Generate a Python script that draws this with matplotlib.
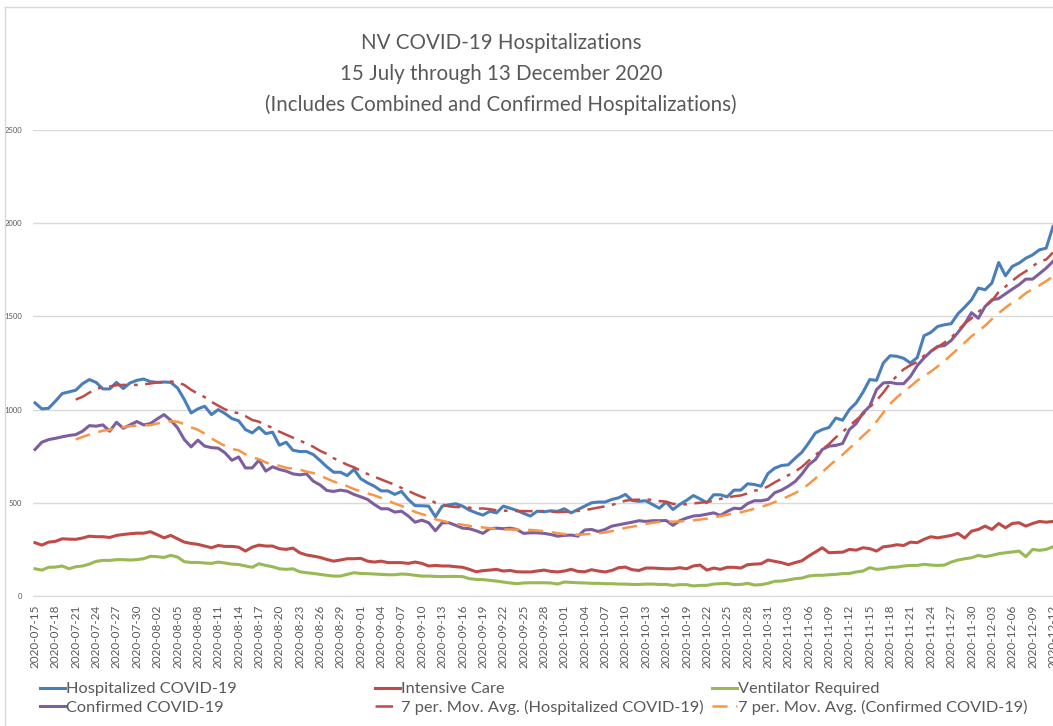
import numpy as np
import pandas as pd
import matplotlib
matplotlib.use("Agg")
import matplotlib.pyplot as plt
from matplotlib.lines import Line2D

plt.rcParams['font.family'] = ['Lato', 'DejaVu Sans']

dates = pd.date_range('2020-07-15', '2020-12-12', freq='D')

hospitalized = [
    1036, 1004, 1007, 1045, 1086, 1095, 1104, 1139, 1161, 1146,
    1111, 1111, 1146, 1113, 1143, 1157, 1164, 1150, 1146, 1148,
    1146, 1116, 1054, 982, 1004, 1018, 973, 1000, 979, 952,
    940, 893, 875, 905, 871, 879, 809, 825, 782, 775,
    775, 759, 727, 693, 664, 664, 646, 679, 629, 607,
    589, 564, 564, 545, 561, 518, 485, 484, 482, 425,
    482, 489, 495, 482, 461, 446, 434, 454, 446, 482,
    471, 459, 443, 429, 455, 452, 457, 454, 468, 446,
    464, 482, 500, 504, 504, 518, 527, 545, 512, 508,
    511, 491, 471, 504, 464, 491, 513, 539, 521, 500,
    543, 543, 532, 568, 568, 602, 598, 589, 657, 686,
    700, 704, 739, 771, 821, 875, 893, 904, 955, 943,
    1000, 1036, 1093, 1161, 1157, 1250, 1289, 1286, 1275, 1250,
    1279, 1396, 1414, 1446, 1455, 1461, 1514, 1550, 1589, 1652,
    1643, 1679, 1789, 1718, 1768, 1786, 1812, 1830, 1857, 1866,
    1982,
]

confirmed = [
    786, 825, 839, 846, 854, 861, 866, 884, 914, 911,
    918, 884, 932, 900, 918, 936, 918, 925, 950, 973,
    943, 902, 839, 800, 836, 804, 796, 793, 768, 728,
    746, 687, 687, 729, 670, 693, 679, 670, 655, 650,
    655, 616, 596, 566, 561, 568, 562, 545, 532, 518,
    491, 468, 468, 450, 455, 429, 396, 407, 393, 350,
    393, 393, 379, 364, 361, 350, 336, 361, 364, 361,
    364, 357, 336, 339, 339, 336, 330, 321, 325, 327,
    321, 354, 357, 346, 357, 375, 382, 389, 396, 404,
    400, 404, 404, 405, 379, 404, 418, 429, 432, 439,
    446, 432, 454, 471, 468, 496, 511, 511, 518, 554,
    568, 589, 614, 654, 704, 732, 786, 804, 808, 818,
    893, 925, 982, 1018, 1107, 1143, 1146, 1139, 1139, 1178,
    1236, 1277, 1312, 1339, 1343, 1371, 1414, 1460, 1520, 1490,
    1553, 1589, 1596, 1621, 1646, 1670, 1700, 1700, 1729, 1759,
    1795,
]

icu = [
    286, 273, 289, 293, 307, 305, 304, 311, 321, 318,
    318, 314, 325, 330, 334, 337, 337, 345, 329, 312,
    325, 307, 289, 282, 277, 268, 259, 271, 266, 266,
    262, 241, 262, 273, 268, 268, 254, 250, 257, 232,
    220, 214, 207, 196, 187, 193, 200, 200, 202, 187,
    182, 187, 179, 179, 179, 175, 182, 175, 161, 164,
    161, 161, 157, 154, 143, 130, 136, 139, 143, 134,
    137, 130, 129, 129, 134, 139, 132, 129, 134, 143,
    132, 130, 141, 134, 129, 137, 152, 155, 141, 137,
    150, 150, 148, 146, 146, 152, 146, 161, 166, 139,
    150, 143, 154, 154, 150, 168, 171, 173, 193, 186,
    179, 168, 179, 189, 214, 236, 259, 232, 234, 235,
    250, 246, 259, 254, 241, 264, 268, 275, 271, 289,
    286, 304, 318, 312, 318, 325, 336, 311, 348, 357,
    375, 357, 389, 366, 389, 393, 375, 389, 400, 396,
    400,
]

ventilator = [
    146, 139, 154, 155, 161, 146, 157, 161, 171, 186,
    191, 191, 195, 195, 193, 195, 200, 213, 211, 207,
    218, 209, 184, 180, 180, 177, 175, 182, 177, 171,
    169, 161, 154, 173, 164, 157, 146, 143, 146, 130,
    125, 121, 116, 111, 107, 107, 116, 125, 121, 120,
    118, 116, 114, 114, 118, 116, 111, 107, 107, 105,
    104, 105, 105, 104, 93, 89, 88, 84, 80, 75,
    70, 66, 70, 71, 71, 71, 70, 64, 75, 73,
    71, 70, 68, 68, 66, 66, 64, 64, 62, 62,
    64, 64, 62, 62, 57, 61, 61, 54, 57, 57,
    64, 66, 68, 61, 62, 68, 59, 61, 68, 79,
    80, 86, 93, 96, 107, 111, 111, 114, 116, 120,
    121, 129, 134, 152, 143, 146, 154, 155, 161, 164,
    164, 170, 166, 164, 166, 182, 193, 200, 205, 218,
    211, 218, 227, 232, 236, 241, 211, 250, 245, 250,
    264,
]

# 7 period moving averages (Excel trendlines)
ma_hosp = pd.Series(hospitalized).rolling(7).mean()
ma_conf = pd.Series(confirmed).rolling(7).mean()

BLUE = '#4A7EBB'
RED = '#BE4B48'
GREEN = '#98B954'
PURPLE = '#7D5FA0'
ORANGE = '#F79646'
TXT = '#595959'

W, H = 1053, 726
fig = plt.figure(figsize=(W / 100, H / 100), dpi=100)
ax = fig.add_axes([33 / W, (H - 596) / H, 1022 / W, 466 / H])

x = np.arange(len(dates))
ax.plot(x, hospitalized, color=BLUE, lw=2.2, label='Hospitalized COVID-19')
ax.plot(x, icu, color=RED, lw=2.2, label='Intensive Care')
ax.plot(x, ventilator, color=GREEN, lw=2.2, label='Ventilator Required')
ax.plot(x, confirmed, color=PURPLE, lw=2.2, label='Confirmed COVID-19')
ax.plot(x, ma_hosp, color=RED, lw=1.8, ls=(0, (7, 3, 1.5, 3)),
        label='7 per. Mov. Avg. (Hospitalized COVID-19)')
ax.plot(x, ma_conf, color=ORANGE, lw=1.8, ls=(0, (6, 3.5)),
        label='7 per. Mov. Avg. (Confirmed COVID-19)')

ax.set_xlim(-0.3, 150.3)
ax.set_ylim(0, 2500)
ax.set_yticks(range(0, 2501, 500))
ax.set_xticks(x[::3])
ax.set_xticklabels(dates[::3].strftime('%Y-%m-%d'), rotation=90)
ax.grid(axis='y', color='#D9D9D9', lw=1)
ax.set_axisbelow(True)
for s in ['top', 'right', 'left']:
    ax.spines[s].set_visible(False)
ax.spines['bottom'].set_color('#D9D9D9')
ax.tick_params(axis='both', length=0, colors=TXT)
ax.tick_params(axis='x', labelsize=8.5, pad=6)
ax.tick_params(axis='y', labelsize=5.5, pad=8)

fig.text(501 / W, 1 - 74 / H, 'NV COVID-19 Hospitalizations\n15 July through 13 December 2020\n'
         '(Includes Combined and Confirmed Hospitalizations)',
         ha='center', va='center', fontsize=14.8, color=TXT, linespacing=1.68)

# chart area border (left and top edges visible)
fig.add_artist(Line2D([5 / W, 5 / W], [0, 1 - 7 / H], color='#D9D9D9', lw=1))
fig.add_artist(Line2D([5 / W, 1], [1 - 7 / H, 1 - 7 / H], color='#D9D9D9', lw=1))

h, l = ax.get_legend_handles_labels()
cols = [(h[0], l[0], h[3], l[3], 40), (h[1], l[1], h[4], l[4], 375), (h[2], l[2], h[5], l[5], 712)]
for h1, l1, h2, l2, px in cols:
    leg = fig.legend([h1, h2], [l1, l2], loc='upper left',
                     bbox_to_anchor=(px / W, 1 - 682 / H), frameon=False,
                     fontsize=11.8, handlelength=1.5, handletextpad=0.1,
                     labelspacing=0.22, borderpad=0, borderaxespad=0)
    for t in leg.get_texts():
        t.set_color(TXT)

fig.savefig('out.png', dpi=100)
